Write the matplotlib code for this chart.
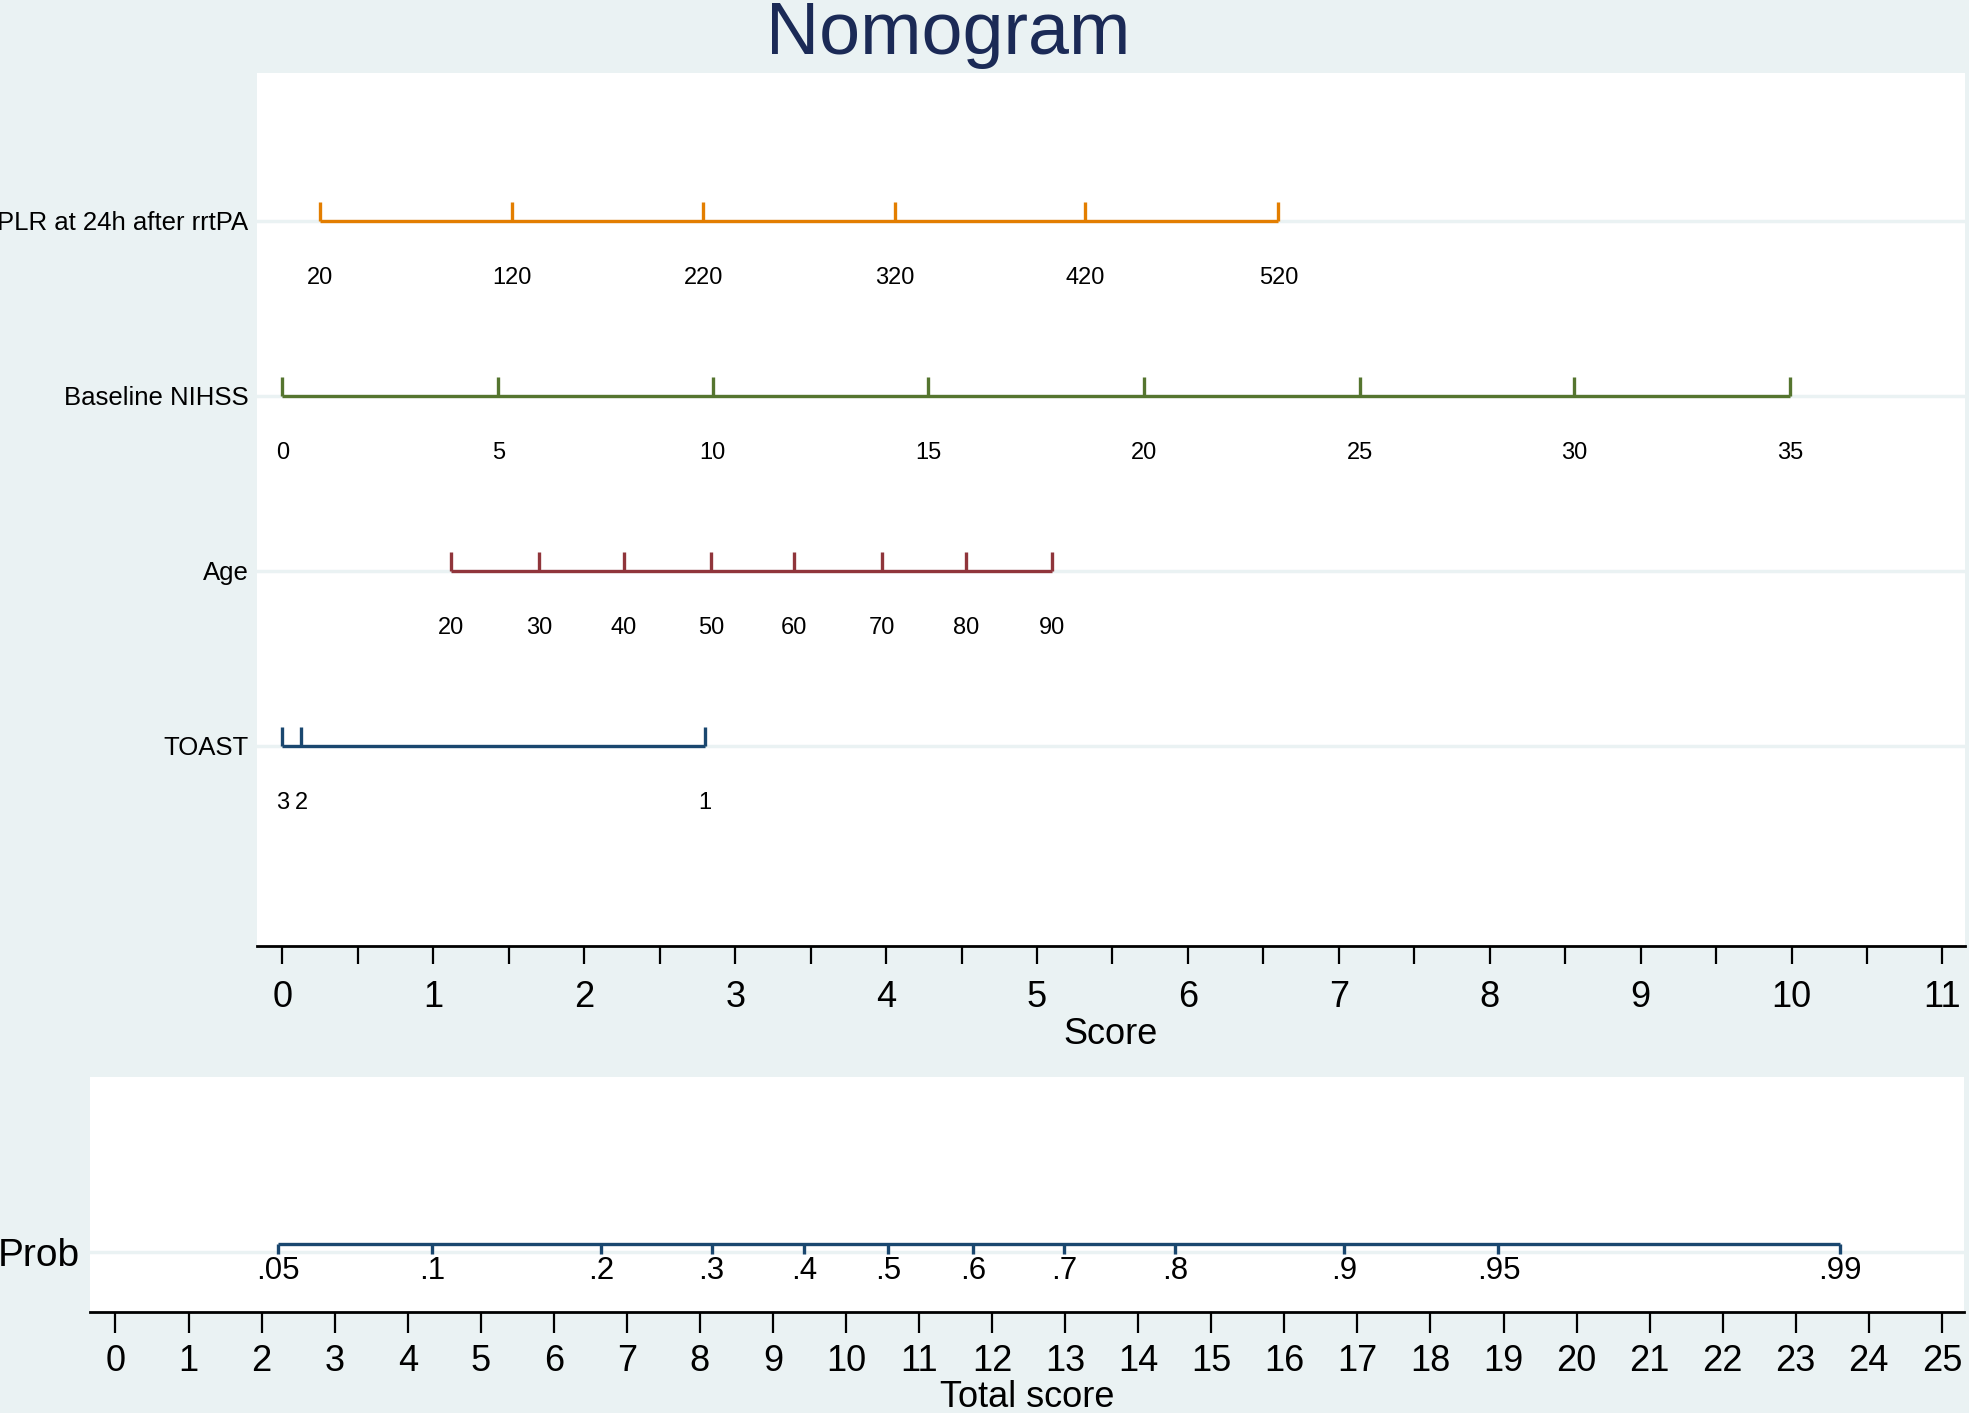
import numpy as np
import matplotlib
matplotlib.use("Agg")
import matplotlib.pyplot as plt

plt.rcParams["font.family"] = ["Liberation Sans", "DejaVu Sans"]

# ---- data ----
row_names = ["PLR at 24h after rrtPA", "Baseline NIHSS", "Age", "TOAST"]

plr_values = ["20", "120", "220", "320", "420", "520"]
plr_points = [0.25, 1.52, 2.79, 4.06, 5.32, 6.60]

nihss_values = ["0", "5", "10", "15", "20", "25", "30", "35"]
nihss_points = [0.0, 1.43, 2.85, 4.28, 5.71, 7.14, 8.56, 9.99]

age_values = ["20", "30", "40", "50", "60", "70", "80", "90"]
age_points = [1.12, 1.70, 2.26, 2.84, 3.39, 3.97, 4.53, 5.10]

toast_values = ["3", "2", "1"]
toast_points = [0.0, 0.125, 2.80]

prob_values = [".05", ".1", ".2", ".3", ".4", ".5", ".6", ".7", ".8", ".9", ".95", ".99"]
prob_points = [2.22, 4.33, 6.65, 8.16, 9.43, 10.58, 11.74, 12.99, 14.50, 16.82, 18.93, 23.60]

score_ticks = list(range(0, 12))
total_ticks = list(range(0, 26))

# ---- style ----
BG = "#EAF2F3"
GRID = "#EAF2F3"
TITLE = "#1B2A56"
colors = ["#E37E00", "#55752F", "#90353B", "#1A476F"]
LW = 2.4

fig = plt.figure(figsize=(19.69, 14.13), dpi=100, facecolor=BG)

# top panel: points per predictor
ax = fig.add_axes([0.1305, 0.3305, 0.8675, 0.618])
ax.set_facecolor("white")
for s in ["top", "left", "right"]:
    ax.spines[s].set_visible(False)
ax.spines["bottom"].set_linewidth(2)
ax.set_xlim(-0.169, 11.15)
ax.set_ylim(5.143, 0.154)

rows = [
    (plr_values, plr_points),
    (nihss_values, nihss_points),
    (age_values, age_points),
    (toast_values, toast_points),
]
for i, (vals, pts) in enumerate(rows):
    y = i + 1
    c = colors[i]
    ax.axhline(y, color=GRID, lw=2.5, zorder=0)
    ax.plot([pts[0], pts[-1]], [y, y], color=c, lw=LW, solid_capstyle="butt")
    for p, v in zip(pts, vals):
        ax.plot([p, p], [y, y - 0.11], color=c, lw=LW, solid_capstyle="butt")
        ax.text(p, y + 0.325, v, ha="center", va="center", fontsize=17)

ax.set_yticks([1, 2, 3, 4], row_names, fontsize=18.5)
ax.tick_params(axis="y", length=0, pad=6)
ax.set_xticks(score_ticks, [str(t) for t in score_ticks], fontsize=26)
ax.set_xticks(np.arange(0.5, 11, 1.0), minor=True)
ax.tick_params(axis="x", which="both", length=13, width=1.6, pad=11.5)
ax.set_xlabel("Score", fontsize=26, labelpad=1.5)

fig.text(0.4815, 1 - 54 / 1413, "Nomogram", ha="center", va="baseline",
         fontsize=53, color=TITLE)

# bottom panel: total score -> probability
ax2 = fig.add_axes([0.0457, 0.0715, 0.952, 0.1663])
ax2.set_facecolor("white")
for s in ["top", "left", "right"]:
    ax2.spines[s].set_visible(False)
ax2.spines["bottom"].set_linewidth(2)
ax2.set_xlim(-0.349, 25.31)
ax2.set_ylim(-60, 175)

ax2.axhline(0, color=GRID, lw=2.5, zorder=0)
ax2.plot([prob_points[0], prob_points[-1]], [8, 8], color=colors[3], lw=LW,
         solid_capstyle="butt")
for p, v in zip(prob_points, prob_values):
    ax2.plot([p, p], [8, -2], color=colors[3], lw=LW, solid_capstyle="butt")
    ax2.text(p, -4, v, ha="center", va="top", fontsize=22.5)

ax2.set_yticks([0], ["Prob"], fontsize=28)
ax2.tick_params(axis="y", length=0, pad=7)
ax2.set_xticks(total_ticks, [str(t) for t in total_ticks], fontsize=26)
ax2.tick_params(axis="x", length=15, width=1.6, pad=8)
ax2.set_xlabel("Total score", fontsize=26, labelpad=0.5)

fig.savefig("out.png", dpi=100, facecolor=BG)
